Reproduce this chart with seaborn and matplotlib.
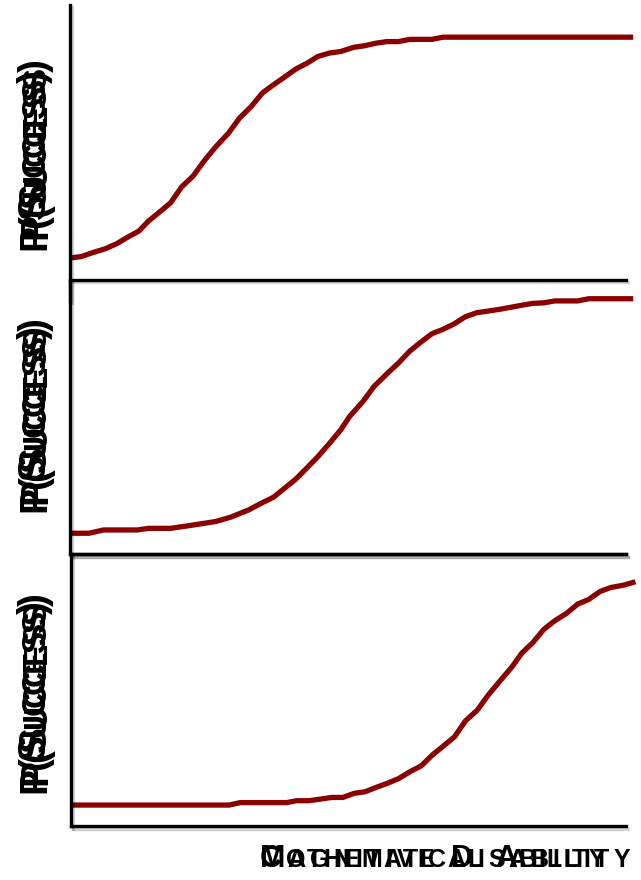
import numpy as np
import matplotlib
matplotlib.use("Agg")
import matplotlib.pyplot as plt
import matplotlib.transforms as mtransforms
import matplotlib.patheffects as pe
import seaborn as sns

# Ability scale (0-100) and probability of success for three ability profiles
x_early = [0.3, 2.0, 4.0, 6.4, 8.4, 10.4, 12.4, 14.1, 16.1, 18.1, 20.1, 22.1, 24.2,
           26.2, 28.5, 30.5, 32.6, 34.6, 36.6, 38.6, 40.6, 42.6, 44.6, 46.6, 48.7,
           51.0, 53.0, 55.0, 57.0, 59.1, 61.1, 65.1, 67.1, 101.3]
p_early = [0.081, 0.085, 0.099, 0.114, 0.132, 0.156, 0.178, 0.214, 0.247, 0.281,
           0.339, 0.377, 0.435, 0.484, 0.534, 0.589, 0.631, 0.680, 0.710, 0.738,
           0.767, 0.788, 0.813, 0.825, 0.831, 0.846, 0.852, 0.861, 0.867, 0.867,
           0.875, 0.875, 0.883, 0.883]

x_mid = [0.3, 3.4, 6.0, 12.1, 14.1, 18.1, 22.1, 26.2, 28.9, 32.2, 34.2, 36.6, 38.6,
         40.6, 42.6, 44.6, 46.7, 48.7, 50.3, 52.7, 54.7, 57.0, 59.1, 61.1, 63.1,
         65.1, 67.1, 69.1, 71.1, 73.2, 77.2, 81.2, 83.2, 85.2, 87.2, 91.3, 93.3, 101.3]
p_mid = [0.076, 0.076, 0.088, 0.088, 0.094, 0.094, 0.106, 0.119, 0.135, 0.162,
         0.184, 0.208, 0.241, 0.274, 0.315, 0.357, 0.406, 0.455, 0.504, 0.559,
         0.614, 0.660, 0.700, 0.743, 0.776, 0.807, 0.823, 0.843, 0.869, 0.884,
         0.896, 0.911, 0.918, 0.920, 0.927, 0.927, 0.935, 0.935]

x_late = [0.3, 28.5, 30.5, 38.9, 40.6, 42.9, 47.0, 49.0, 51.0, 53.0, 55.0, 57.0,
          59.1, 61.1, 63.1, 65.1, 67.1, 69.1, 71.1, 73.2, 75.2, 77.2, 79.5, 81.2,
          83.2, 85.2, 87.2, 89.3, 91.3, 93.3, 95.3, 97.3, 99.7, 101.7]
p_late = [0.077, 0.077, 0.086, 0.086, 0.093, 0.093, 0.105, 0.105, 0.120, 0.126,
          0.142, 0.157, 0.175, 0.200, 0.221, 0.261, 0.294, 0.328, 0.387, 0.426,
          0.482, 0.531, 0.586, 0.635, 0.674, 0.723, 0.755, 0.782, 0.816, 0.833,
          0.862, 0.877, 0.886, 0.898]

y_label = "P(Success)"
x_labels = ["Cognitive Disability", "Mathematical Ability"]

CURVE = "#8b0000"
W, H = 641, 880

sns.set_theme(style="white")
plt.rcParams["font.family"] = ["Liberation Sans", "DejaVu Sans"]

fig = plt.figure(figsize=(W / 100, H / 100), dpi=100)


def px_axes(left, top, right, bottom):
    return fig.add_axes([left / W, 1 - bottom / H, (right - left) / W, (bottom - top) / H])


shadow = [pe.SimpleLineShadow(offset=(1.2, -1.8), shadow_color="black", alpha=0.18, rho=0.5),
          pe.Normal()]

panels = [
    (px_axes(70, 5, 626, 280), x_early, p_early, ["left", "bottom"]),
    (px_axes(70, 281, 626, 554), x_mid, p_mid, ["left", "bottom"]),
    (px_axes(71, 554, 626, 826), x_late, p_late, ["left", "bottom", "top"]),
]

for ax, xs, ps, shown in panels:
    sns.lineplot(x=xs, y=ps, ax=ax, color=CURVE, linewidth=3.8, clip_on=False,
                 solid_capstyle="butt")
    ax.set_xlim(0, 100)
    ax.set_ylim(0, 1)
    ax.set_xticks([])
    ax.set_yticks([])
    ax.set_xlabel("")
    ax.set_ylabel("")
    ax.patch.set_alpha(0)
    for name, spine in ax.spines.items():
        if name in shown:
            spine.set_visible(True)
            spine.set_color("black")
            spine.set_linewidth(2.4)
            spine.set_path_effects(shadow)
        else:
            spine.set_visible(False)

# the first panel's vertical axis runs a little past its baseline
panels[0][0].spines["left"].set_bounds(-0.075, 1)

renderer = fig.canvas.get_renderer()
ident = mtransforms.IdentityTransform()


def small_caps(x, y, text, big, small, length, rotation=0):
    """Write text in spaced small capitals from pixel (x, y), top-left origin,
    spreading the letters over `length` pixels."""
    chars = []
    for ch in text:
        size = small if ch.islower() else big
        chars.append((ch.upper(), size))
    rot = 90 if rotation else 0
    word_gap = 0.3 * big * 100 / 72
    yd = H - y
    # place glyphs, then spread them with even tracking
    texts, sizes = [], []
    for ch, size in chars:
        if ch == " ":
            texts.append(None)
            sizes.append(word_gap)
            continue
        t = fig.text(x, yd, ch, transform=ident, fontsize=size, rotation=rot,
                     rotation_mode="anchor", ha="left", va="baseline",
                     color="black", fontweight="bold")
        bb = t.get_window_extent(renderer)
        texts.append(t)
        sizes.append(bb.height if rot else bb.width)
    n_gaps = len(chars) - 1
    track = (length - sum(sizes)) / n_gaps
    pos = 0.0
    for t, s in zip(texts, sizes):
        if t is not None:
            if rot:
                t.set_position((x, yd + pos))
            else:
                t.set_position((x + pos, yd))
        pos += s + track


# vertical labels, each written twice with a slight offset
for start, shift, length in [(250, 11, 180), (512, 8, 186), (793, 8, 192)]:
    small_caps(45, start, y_label, 28, 24, length, rotation=90)
    small_caps(46, start - shift, y_label, 28, 24, length, rotation=90)

small_caps(260, 867, x_labels[0], 22, 18, 370)
small_caps(260, 867, x_labels[1], 22, 18, 345)

fig.savefig("out.png", dpi=100)
